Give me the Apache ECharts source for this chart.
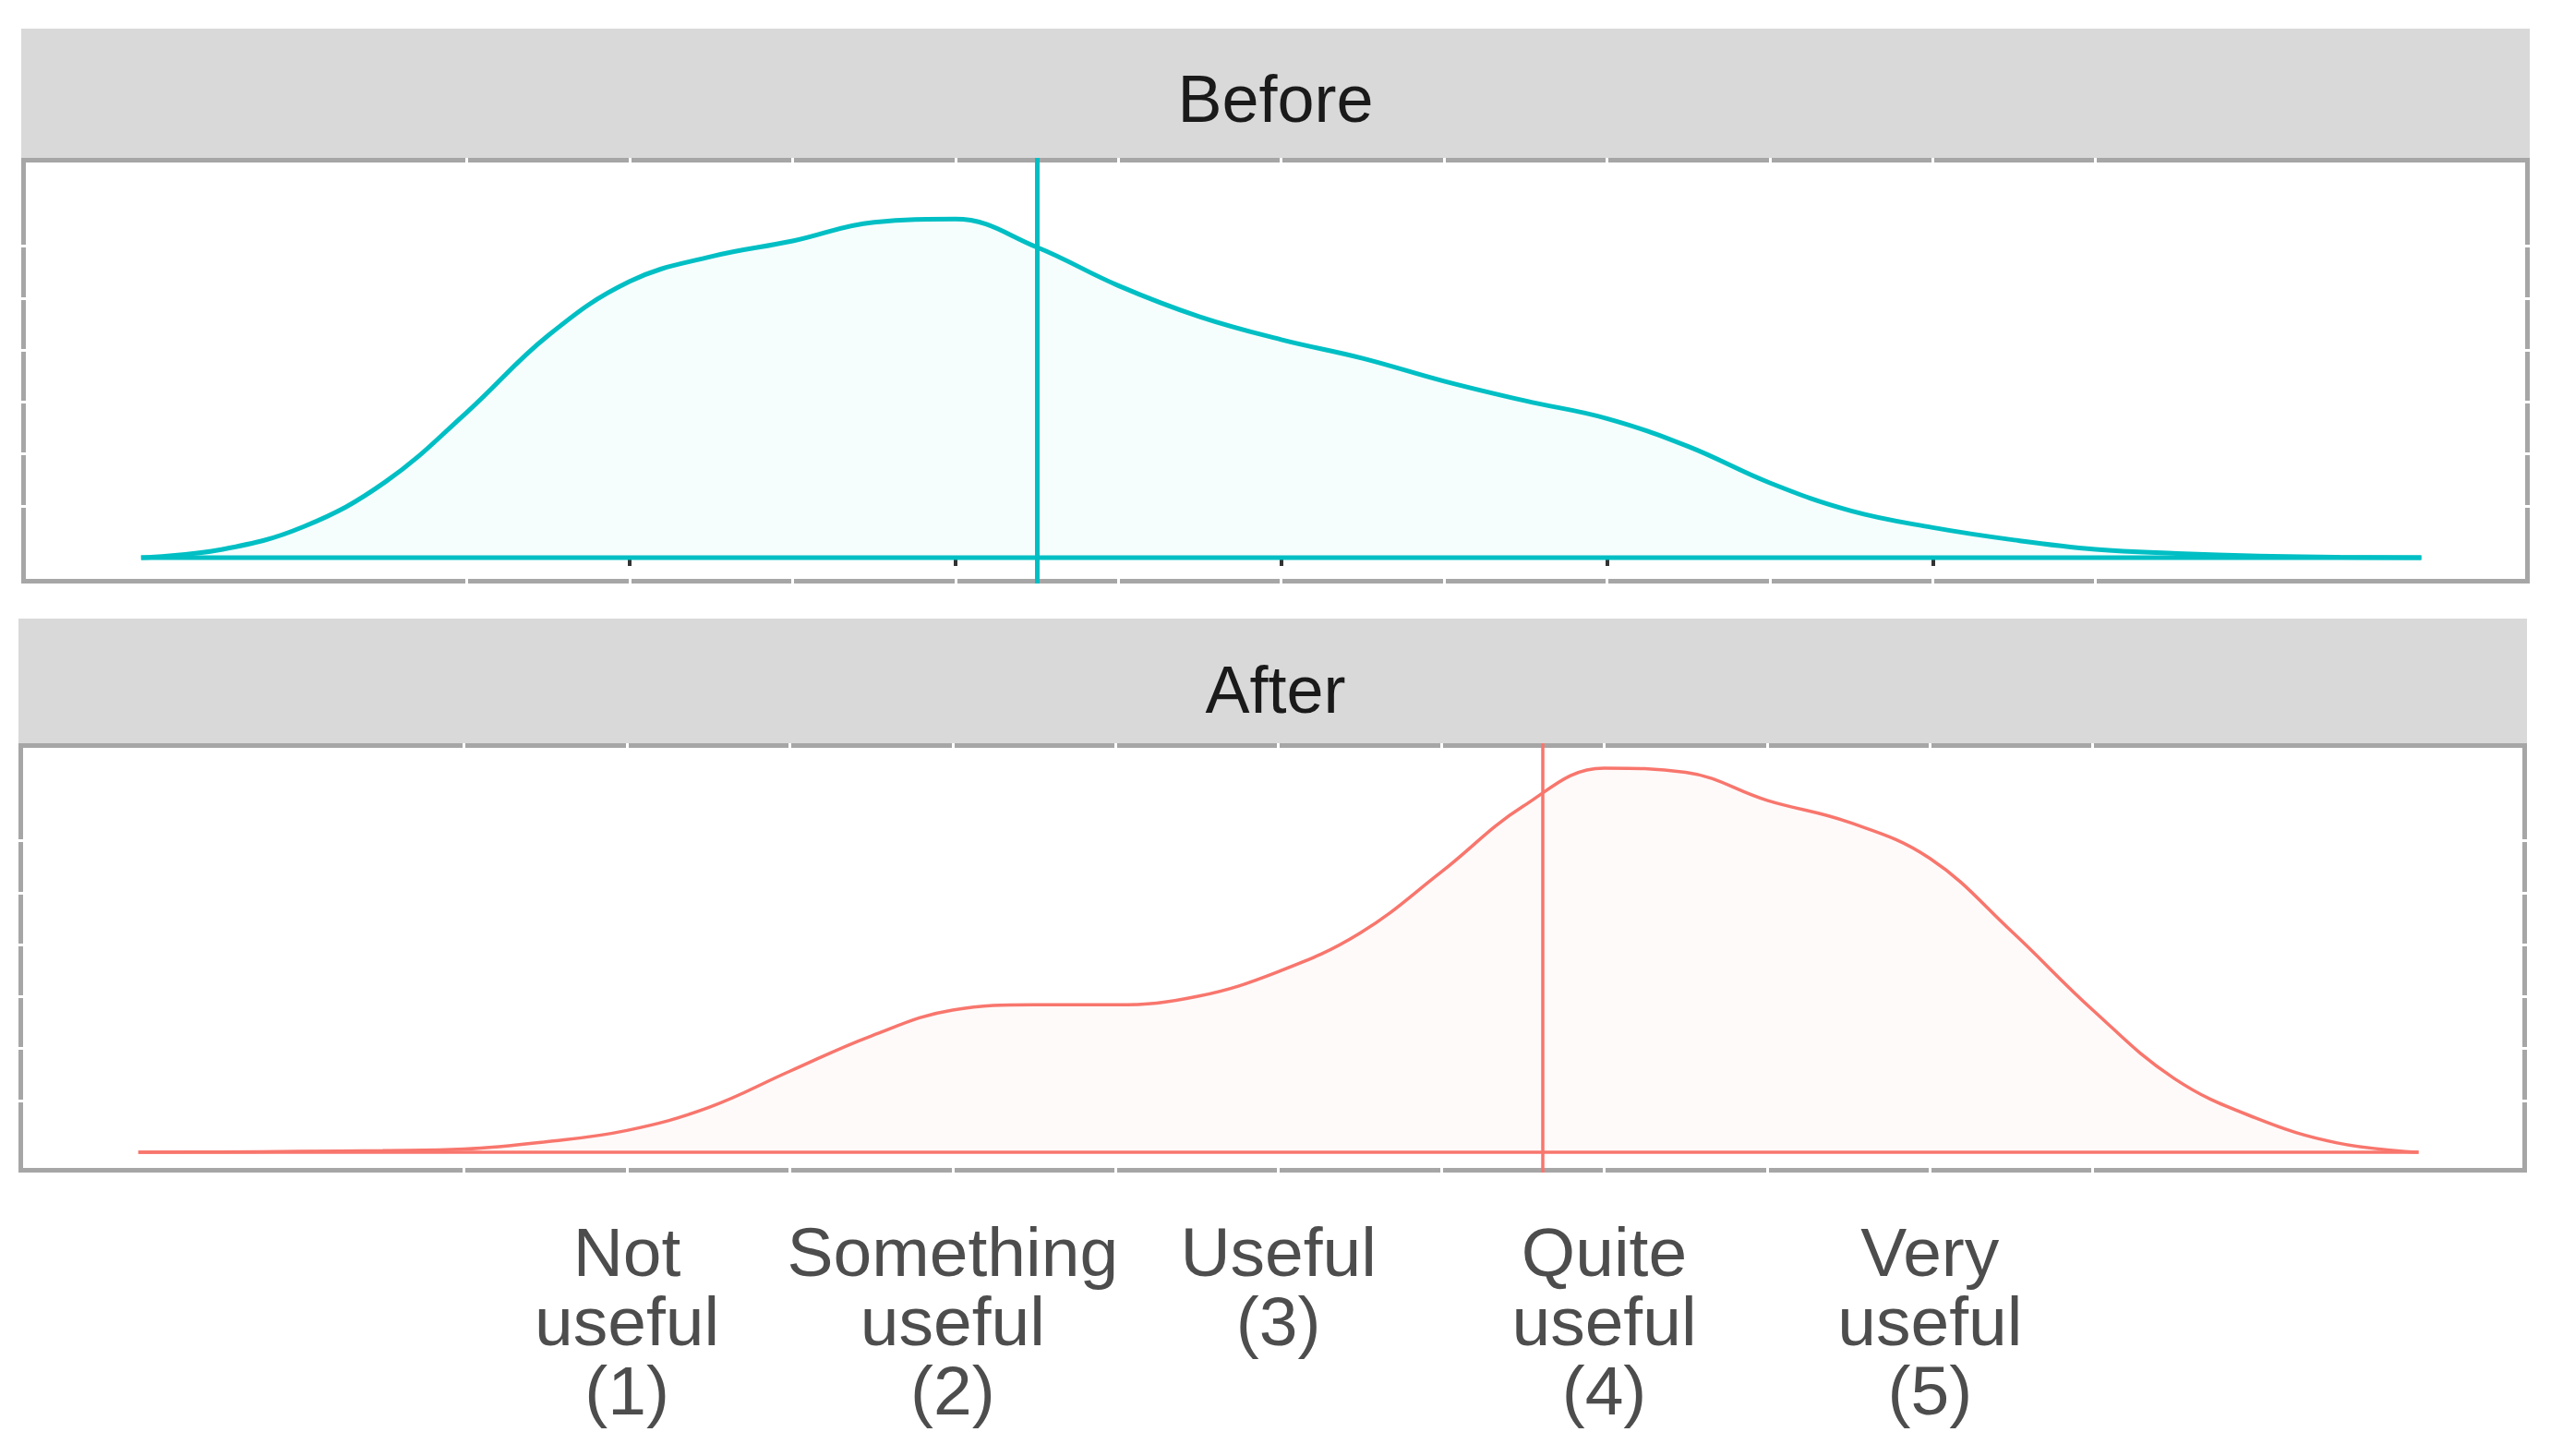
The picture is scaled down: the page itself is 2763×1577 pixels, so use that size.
<!DOCTYPE html>
<html>
<head>
<meta charset="utf-8">
<title>Before / After</title>
<script src="https://cdn.jsdelivr.net/npm/echarts@6.0.0/dist/echarts.min.js"></script>
<style>
html, body { margin: 0; padding: 0; background: #fff; }
#chart { width: 2763px; height: 1577px; }
</style>
</head>
<body>
<div id="chart"></div>
<script>
const xPoints = [-0.5, -0.25, 0, 0.25, 0.5, 0.75, 1, 1.25, 1.5, 1.75, 2, 2.25, 2.5, 2.75,
  3, 3.25, 3.5, 3.75, 4, 4.25, 4.5, 4.75, 5, 5.25, 5.5, 5.75, 6, 6.25, 6.5];
const beforeDensity = [0, 0.008, 0.030, 0.073, 0.140, 0.214, 0.266, 0.290, 0.305, 0.323, 0.326,
  0.299, 0.262, 0.232, 0.210, 0.192, 0.170, 0.151, 0.134, 0.107, 0.072, 0.045, 0.029,
  0.017, 0.008, 0.004, 0.0015, 0.0005, 0];
const afterDensity = [0, 0.0003, 0.0008, 0.0015, 0.003, 0.010, 0.021, 0.043, 0.078, 0.112, 0.137,
  0.142, 0.142, 0.150, 0.174, 0.211, 0.270, 0.333, 0.370, 0.366, 0.339, 0.318, 0.283,
  0.213, 0.137, 0.071, 0.033, 0.009, 0];
const beforeMean = 2.25;
const afterMean = 3.81;

const panelNames = ['Before', 'After'];
const tickValues = [1, 2, 3, 4, 5];
const tickLabels = ['Not\nuseful\n(1)', 'Something\nuseful\n(2)', 'Useful\n(3)', 'Quite\nuseful\n(4)', 'Very\nuseful\n(5)'];
const gridBreaksX = [0, 0.5, 1, 1.5, 2, 2.5, 3, 3.5, 4, 4.5, 5, 5.5, 6];
const gridBreaksY = [0, 0.05, 0.1, 0.15, 0.2, 0.25, 0.3, 0.35];
const xRange = [-0.868, 6.833];
const yRangeBefore = [-0.0249, 0.385];
const yRangeAfter = [-0.0196, 0.394];

const colors = ['#00BFC4', '#F8766D'];
const fills = ['rgba(0,191,196,0.05)', 'rgba(248,118,109,0.05)'];
const font = 'Liberation Sans, Arial, sans-serif';

const chart = echarts.init(document.getElementById('chart'));

// per facet: strip, grey frame (holds the data), white inner panel
const grids = [
  { left: 23, top: 31, width: 2717, height: 140, show: true, backgroundColor: '#D9D9D9', borderWidth: 0 },
  { left: 23, top: 171, width: 2717, height: 461, show: true, backgroundColor: '#A6A6A6', borderWidth: 0 },
  { left: 28, top: 176, width: 2707, height: 451, show: true, backgroundColor: '#fff', borderWidth: 0 },
  { left: 20, top: 670, width: 2717, height: 135, show: true, backgroundColor: '#D9D9D9', borderWidth: 0 },
  { left: 20, top: 805, width: 2717, height: 465, show: true, backgroundColor: '#A6A6A6', borderWidth: 0 },
  { left: 25, top: 810, width: 2707, height: 455, show: true, backgroundColor: '#fff', borderWidth: 0 }
];

const xAxes = [];
const yAxes = [];
function dummyAxes(gi) {
  xAxes.push({ gridIndex: gi, type: 'value', show: false, min: 0, max: 1 });
  yAxes.push({ gridIndex: gi, type: 'value', show: false, min: 0, max: 1 });
}
function panelAxes(gi, yRange, withLabels) {
  // data axis
  xAxes.push({
    gridIndex: gi, type: 'value', min: xRange[0], max: xRange[1],
    axisLine: { show: false },
    axisTick: { show: !withLabels, customValues: tickValues, length: 9, lineStyle: { color: '#333', width: 4 } },
    axisLabel: {
      show: withLabels, customValues: tickValues, margin: 54,
      formatter: v => tickLabels[tickValues.indexOf(v)],
      color: '#4D4D4D', fontFamily: font,
      fontSize: 75, lineHeight: 75, align: 'center', verticalAlign: 'top'
    },
    splitLine: { show: false }
  });
  // white grid lines, they cut through the grey frame
  xAxes.push({
    gridIndex: gi, type: 'value', position: 'top', min: xRange[0], max: xRange[1],
    axisLine: { show: false }, axisLabel: { show: false },
    axisTick: { show: false, customValues: gridBreaksX },
    splitLine: { show: true, showMinLine: false, showMaxLine: false, lineStyle: { color: '#fff', width: 3 } }
  });
  yAxes.push({
    gridIndex: gi, type: 'value', min: yRange[0], max: yRange[1], show: false
  });
  yAxes.push({
    gridIndex: gi, type: 'value', position: 'right', min: yRange[0], max: yRange[1],
    axisLine: { show: false }, axisLabel: { show: false },
    axisTick: { show: false, customValues: gridBreaksY },
    splitLine: { show: true, showMinLine: false, showMaxLine: false, lineStyle: { color: '#fff', width: 3 } }
  });
}
dummyAxes(0);                       // x0 y0
panelAxes(1, yRangeBefore, false);  // x1,x2 y1,y2
dummyAxes(2);                       // x3 y3
dummyAxes(3);                       // x4 y4
panelAxes(4, yRangeAfter, true);    // x5,x6 y5,y6
dummyAxes(5);                       // x7 y7

function densitySeries(values, axisIdx, k, mean, width) {
  const pts = xPoints.map((x, i) => [x, values[i]]);
  return [
    {
      type: 'line', xAxisIndex: axisIdx, yAxisIndex: axisIdx, data: pts,
      smooth: 0.4, showSymbol: false, silent: true,
      lineStyle: { color: colors[k], width: width },
      areaStyle: { color: fills[k] },
      markLine: {
        symbol: 'none', silent: true, label: { show: false },
        lineStyle: { color: colors[k], width: width, type: 'solid' },
        data: [{ xAxis: mean }]
      },
      z: 3
    },
    {
      // closing edge of the density polygon
      type: 'line', xAxisIndex: axisIdx, yAxisIndex: axisIdx,
      data: [[xPoints[0], 0], [xPoints[xPoints.length - 1], 0]],
      showSymbol: false, silent: true,
      lineStyle: { color: colors[k], width: width }, z: 3
    }
  ];
}

const option = {
  backgroundColor: '#fff',
  animation: false,
  title: [
    { text: panelNames[0], left: 'center', top: 71,
      textStyle: { fontFamily: font, fontSize: 72, fontWeight: 'normal', color: '#1A1A1A' } },
    { text: panelNames[1], left: 'center', top: 711,
      textStyle: { fontFamily: font, fontSize: 72, fontWeight: 'normal', color: '#1A1A1A' } }
  ],
  grid: grids,
  xAxis: xAxes,
  yAxis: yAxes,
  series: [].concat(
    densitySeries(beforeDensity, 1, 0, beforeMean, 5),
    densitySeries(afterDensity, 5, 1, afterMean, 3.5)
  )
};
chart.setOption(option);
window.addEventListener('resize', () => chart.resize());
</script>
</body>
</html>
